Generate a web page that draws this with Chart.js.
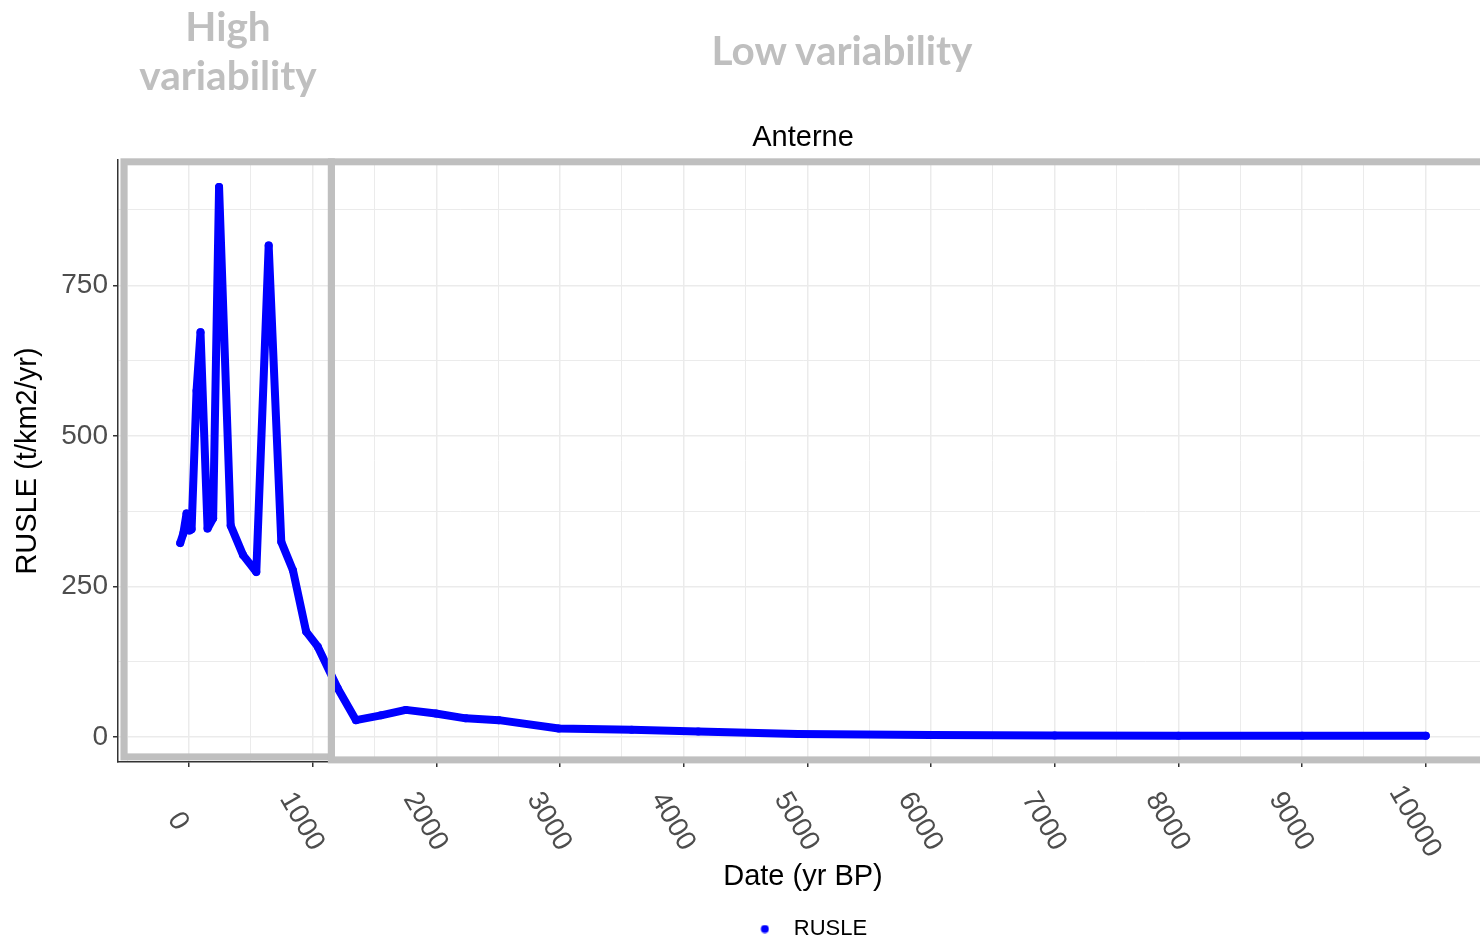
<!DOCTYPE html>
<html>
<head>
<meta charset="utf-8">
<script src="https://cdn.jsdelivr.net/npm/chart.js@4.4.1/dist/chart.umd.min.js"></script>
<style>
  html, body { margin: 0; padding: 0; background: #fff; overflow: hidden; }
  #wrap { position: relative; width: 1492px; height: 950px; }
  .hdr {
    position: absolute; text-align: center; color: #bfbfbf;
    font-family: Lato, "Open Sans", sans-serif; font-weight: bold;
    font-size: 40.5px; line-height: 49px; white-space: nowrap;
  }
</style>
</head>
<body>
<div id="wrap">
  <canvas id="chart" width="1492" height="950"></canvas>
  <div class="hdr" style="left:128px; top:1px; width:200px;">High<br>variability</div>
  <div class="hdr" style="left:642px; top:25px; width:400px;">Low variability</div>
</div>
<script>
// Anterne RUSLE record
const dates = [-70, -45, -19, 5, 22, 62, 94, 151, 196, 244, 338, 438, 545, 645, 747, 841,
               948, 1042, 1203, 1351, 1553, 1754, 1996, 2238, 2506, 2990, 3580, 4118,
               4923, 6000, 7000, 8000, 9000, 10000];
const rusle = [322, 338, 371, 343, 345, 575, 672, 346, 363, 913, 351, 302, 274, 816, 324, 277,
               175, 150, 81, 28, 36, 45, 39, 31, 28, 14, 12, 9,
               5, 3.5, 2.5, 2, 2, 2];
const xTickLabels = [0, 1000, 2000, 3000, 4000, 5000, 6000, 7000, 8000, 9000, 10000];
const yTickLabels = [0, 250, 500, 750];
// major + minor grid lines
const xGrid = [-500, 0, 500, 1000, 1500, 2000, 2500, 3000, 3500, 4000, 4500, 5000,
               5500, 6000, 6500, 7000, 7500, 8000, 8500, 9000, 9500, 10000, 10500];
const yGrid = [0, 125, 250, 375, 500, 625, 750, 875];

// grey frames marking the two periods (data units)
const periods = [
  { x0: -525, x1: 1152, y0: -33, y1: 955 },
  { x0: 1152, x1: 10800, y0: -38, y1: 955 }
];

const FONT = '"Liberation Sans", Arial, Helvetica, sans-serif';
const gridCol = '#ebebeb';

// small dot used for the legend key (sits a bit right of the key box centre)
const dot = document.createElement('canvas');
dot.width = 17; dot.height = 9;
(function() {
  const c = dot.getContext('2d');
  c.fillStyle = '#0000ff';
  c.beginPath(); c.arc(12.5, 4.5, 4, 0, Math.PI * 2); c.fill();
})();

const periodFrames = {
  id: 'periodFrames',
  afterDatasetsDraw(chart) {
    const { ctx, scales: { x, y } } = chart;
    ctx.save();
    ctx.strokeStyle = '#bfbfbf';
    ctx.lineWidth = 7;
    periods.forEach(p => {
      const l = x.getPixelForValue(p.x0), r = x.getPixelForValue(p.x1);
      const t = y.getPixelForValue(p.y1), b = y.getPixelForValue(p.y0);
      ctx.strokeRect(l, t, r - l, b - t);
    });
    ctx.restore();
  }
};

// x tick labels turned clockwise, like the original
const slantedLabels = {
  id: 'slantedLabels',
  afterDraw(chart) {
    const { ctx, scales: { x } } = chart;
    ctx.save();
    ctx.font = '28px ' + FONT;
    ctx.fillStyle = '#4d4d4d';
    ctx.textAlign = 'center';
    ctx.textBaseline = 'middle';
    xTickLabels.forEach(v => {
      ctx.save();
      ctx.translate(x.getPixelForValue(v) - 11, x.top + 59.5);
      ctx.rotate(Math.PI / 3);
      ctx.fillText(String(v), 0, 0);
      ctx.restore();
    });
    ctx.restore();
  }
};

const isMajorX = v => xTickLabels.includes(v);
const isMajorY = v => yTickLabels.includes(v);

new Chart(document.getElementById('chart'), {
  type: 'line',
  data: {
    datasets: [{
      label: 'RUSLE',
      data: dates.map((d, i) => ({ x: d, y: rusle[i] })),
      borderColor: '#0000ff',
      backgroundColor: '#0000ff',
      borderWidth: 8,
      borderCapStyle: 'round',
      borderJoinStyle: 'round',
      pointRadius: 4,
      pointBorderWidth: 0,
      tension: 0
    }]
  },
  options: {
    responsive: false,
    animation: false,
    events: [],
    layout: { padding: 0 },
    scales: {
      x: {
        type: 'linear',
        min: -573,
        max: 10503,
        afterBuildTicks: s => { s.ticks = xGrid.map(v => ({ value: v })); },
        ticks: { display: false },
        grid: {
          color: gridCol,
          lineWidth: c => (c.tick && isMajorX(c.tick.value)) ? 1.5 : 1,
          tickColor: c => (c.tick && isMajorX(c.tick.value)) ? '#333333' : 'rgba(0,0,0,0)',
          tickWidth: 1.5,
          tickLength: 5
        },
        border: { display: true, color: '#333333', width: 1.5 },
        title: {
          display: true,
          text: 'Date (yr BP)',
          color: '#000',
          font: { family: FONT, size: 29 },
          padding: { top: 92.6, bottom: 13.6 }
        }
      },
      y: {
        min: -41.5,
        max: 958,
        afterBuildTicks: s => { s.ticks = yGrid.map(v => ({ value: v })); },
        ticks: {
          color: '#4d4d4d',
          font: { family: FONT, size: 28 },
          padding: 5,
          callback: v => isMajorY(v) ? String(v) : ''
        },
        grid: {
          color: gridCol,
          lineWidth: c => (c.tick && isMajorY(c.tick.value)) ? 1.5 : 1,
          tickColor: c => (c.tick && isMajorY(c.tick.value)) ? '#333333' : 'rgba(0,0,0,0)',
          tickWidth: 1.5,
          tickLength: 5
        },
        border: { display: true, color: '#333333', width: 1.5 },
        title: {
          display: true,
          text: 'RUSLE (t/km2/yr)',
          color: '#000',
          font: { family: FONT, size: 29 },
          padding: { top: 10.9, bottom: 10.6 }
        }
      }
    },
    plugins: {
      title: {
        display: true,
        text: 'Anterne',
        fullSize: false,
        color: '#000',
        font: { family: FONT, size: 29, weight: 'normal' },
        padding: { top: 120.6, bottom: 4.6 }
      },
      legend: {
        position: 'bottom',
        fullSize: false,
        labels: {
          usePointStyle: true,
          pointStyle: dot,
          pointStyleWidth: 44,
          color: '#000',
          font: { family: FONT, size: 22 }
        }
      },
      tooltip: { enabled: false }
    }
  },
  plugins: [periodFrames, slantedLabels]
});
</script>
</body>
</html>
